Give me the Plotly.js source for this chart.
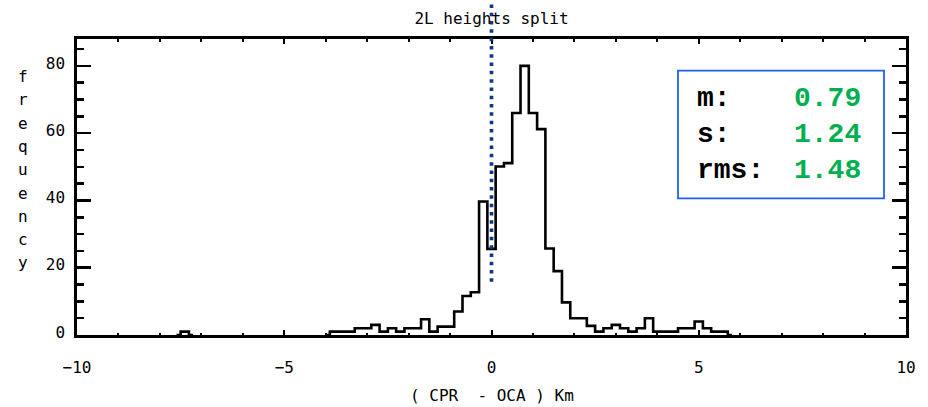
<!DOCTYPE html>
<html>
<head>
<meta charset="utf-8">
<script src="https://cdn.plot.ly/plotly-3.0.1.min.js"></script>
<style>
  html, body { margin: 0; padding: 0; background: #fff; }
  #chart { width: 928px; height: 407px; }
</style>
</head>
<body>
<div id="chart"></div>
<script>
// Height differences CPR - OCA (km), histogram with 0.2 km bins (bin centres)
const binCenters = [
  -4.0, -3.8, -3.6, -3.4, -3.2, -3.0, -2.8, -2.6, -2.4, -2.2,
  -2.0, -1.8, -1.6, -1.4, -1.2, -1.0, -0.8, -0.6, -0.4, -0.2,
   0.0,  0.2,  0.4,  0.6,  0.8,  1.0,  1.2,  1.4,  1.6,  1.8,
   2.0,  2.2,  2.4,  2.6,  2.8,  3.0,  3.2,  3.4,  3.6,  3.8,
   4.0,  4.2,  4.4,  4.6,  4.8,  5.0,  5.2,  5.4,  5.6,  5.8
];
const binCounts = [
   0,    1,    1,    1,    2,    2,    3,    1,    2,    1,
   2,    2,    4.7,  1,    2.5,  2.5,  7,    11.6, 12.7, 39.7,
  25.6, 50.1, 51.1, 66,   80,   66,   61.2, 25.7, 19,   9.7,
   5,    5,    2.7,  1,    2,    3,    2,    1,    2,    5,
   1,    1,    1,    2,    2,    4,    2,    1,    1,    0
];
// isolated outlier bin far in the left tail
const outlierCenters = [-7.6, -7.4, -7.2];
const outlierCounts  = [0, 1, 0];

// summary statistics shown in the box
const statLabels = ['m:', 's:', 'rms:'];
const statValues = [0.79, 1.24, 1.48];

// split marker at zero difference
const splitX = 0;
const splitLineBottom = 15.8;

const xRange = [-10, 10];
const yRange = [0, 88];
const yTitleLetters = 'frequency'.split('');

const W = 928, H = 407;
const M = { l: 77, r: 22, t: 39, b: 72 };
const plotW = W - M.l - M.r, plotH = H - M.t - M.b;
const px2paperX = x => (x - M.l) / plotW;
const px2paperY = y => (H - M.b - y) / plotH;

const mono = 'DejaVu Sans Mono, monospace';
const stepLine = { color: '#000', width: 2.6, shape: 'hvh' };

const traces = [
  { x: binCenters, y: binCounts, type: 'scatter', mode: 'lines', line: stepLine, hoverinfo: 'skip' },
  { x: outlierCenters, y: outlierCounts, type: 'scatter', mode: 'lines', line: stepLine, hoverinfo: 'skip' }
];

const annotations = [];
yTitleLetters.forEach((ch, i) => {
  annotations.push({
    text: ch, xref: 'paper', yref: 'paper', showarrow: false,
    x: px2paperX(22.5), y: px2paperY(76.5 + 23.3 * i),
    xanchor: 'center', yanchor: 'middle',
    font: { family: mono, size: 16, color: '#000' }
  });
});
annotations.push({
  text: '( CPR &nbsp;- OCA ) Km', xref: 'paper', yref: 'paper', showarrow: false,
  x: 0.5, y: px2paperY(395), xanchor: 'center', yanchor: 'middle',
  font: { family: mono, size: 16, color: '#000' }
});
const statFont = 'Liberation Mono, Courier New, monospace';
statLabels.forEach((lab, i) => {
  const cy = 98 + 36 * i;
  annotations.push({
    text: '<b>' + lab + '</b>', xref: 'paper', yref: 'paper', showarrow: false,
    x: px2paperX(695), y: px2paperY(cy), xanchor: 'left', yanchor: 'middle',
    font: { family: statFont, size: 28, color: '#000' }
  });
  annotations.push({
    text: '<b>' + statValues[i].toFixed(2) + '</b>', xref: 'paper', yref: 'paper', showarrow: false,
    x: px2paperX(863), y: px2paperY(cy), xanchor: 'right', yanchor: 'middle',
    font: { family: statFont, size: 28, color: '#00b050' }
  });
});

const shapes = [
  {
    type: 'rect', xref: 'paper', yref: 'paper',
    x0: px2paperX(678), x1: px2paperX(884), y0: px2paperY(198.3), y1: px2paperY(70.7),
    line: { color: '#1f62e8', width: 1.8 }, fillcolor: 'rgba(255,255,255,0)'
  },
  {
    type: 'line', xref: 'x', yref: 'paper',
    x0: splitX, x1: splitX,
    y0: splitLineBottom / yRange[1], y1: 1 + M.t / plotH,
    line: { color: '#0f3584', width: 3.6, dash: '3.5px,4.8px' }
  }
];

const axisCommon = {
  showline: true, linecolor: '#000', linewidth: 2.7, mirror: 'allticks',
  showgrid: false, zeroline: false, ticks: 'inside', tickcolor: '#000',
  tickfont: { family: mono, size: 16, color: '#000' }
};

const layout = {
  width: W, height: H, margin: M,
  paper_bgcolor: '#fff', plot_bgcolor: '#fff', showlegend: false,
  title: {
    text: '2L heights split', xref: 'paper', x: 0.5, yref: 'container', y: 1 - 18.5 / H,
    yanchor: 'middle', font: { family: mono, size: 16, color: '#000' }
  },
  xaxis: Object.assign({}, axisCommon, {
    range: xRange, tick0: 0, dtick: 5, ticklen: 5, tickwidth: 2,
    ticklabelstandoff: 16,
    minor: { dtick: 1, ticks: 'inside', ticklen: 2.5, tickwidth: 2, tickcolor: '#000', showgrid: false }
  }),
  yaxis: Object.assign({}, axisCommon, {
    range: yRange, tick0: 0, dtick: 20, ticklen: 14, tickwidth: 2.5,
    ticklabelstandoff: 6, ticklabelshift: -3,
    minor: { dtick: 5, ticks: 'inside', ticklen: 7, tickwidth: 2.5, tickcolor: '#000', showgrid: false }
  }),
  shapes: shapes,
  annotations: annotations
};

Plotly.newPlot('chart', traces, layout, { staticPlot: true, displayModeBar: false });
</script>
</body>
</html>
